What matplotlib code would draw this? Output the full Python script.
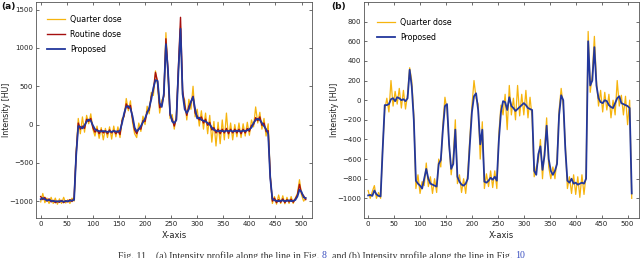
import numpy as np
import matplotlib
matplotlib.use("Agg")
import matplotlib.pyplot as plt

# ---------------- data: panel (a) ----------------
xa = np.arange(0, 512, 4)
a_quarter = [-1010, -900, -1020, -960, -1030, -950, -1030, -960, -1040, -970, -1030, -950, -1025, -980, -1030, -960,
             -1000, -350, 80, -120, 100, -100, 120, 10, 140, -60, -150, -20, -180, -40, -200, -50,
             -170, -30, -190, -20, -160, -30, -170, 80, 100, 340, 180, 310, 30, -120,
             -170, 20, -90, 110, 0, 240, 140, 420, 380, 700, 520, 150, 320, 360, 1200, 650,
             80, 130, -60, 120, 700, 1280, 380, 320, 60, 330, 200, 500, 100, 200, -20, 180,
             -60, 150, -120, 120, -230, 40, -280, 30, -250, 60, -200, 150, -180, 20, -200, 0,
             -160, 20, -170, 10, -150, 30, -140, 60, -30, 230, 20, 160, -60, 80, -150, 10,
             -650, -1030, -940, -1040, -920, -1030, -930, -1035, -950, -1030, -940, -1030, -960, -900, -720, -920,
             -1000, -960]
a_routine = [-940, -980, -950, -1000, -970, -1010, -990, -1020, -1000, -1015, -990, -1020, -995, -1010, -980, -1005,
             -960, -380, 20, -60, -20, -50, 70, 40, 80, -40, -100, -60, -120, -70, -110, -80,
             -120, -70, -110, -75, -120, -80, -130, 50, 120, 270, 210, 250, 80, -70,
             -120, -50, -60, 50, 40, 170, 190, 370, 450, 680, 560, 220, 250, 380, 1120, 720,
             120, 70, -20, 80, 760, 1400, 450, 250, 120, 240, 290, 370, 150, 110, 60, 100,
             20, 70, -10, 30, -70, -40, -110, -60, -120, -60, -110, -50, -120, -60, -110, -60,
             -110, -60, -120, -60, -110, -50, -90, -10, 0, 90, 50, 100, -10, 20, -90, -80,
             -680, -1000, -960, -1020, -980, -1015, -970, -1020, -980, -1010, -975, -1015, -970, -920, -780, -900,
             -930, -980]
a_proposed = [-975, -960, -975, -990, -985, -995, -1000, -1000, -1005, -1000, -1000, -1005, -1000, -1000, -995, -990,
              -985, -400, -20, -30, -50, -10, 40, 65, 50, -10, -60, -80, -85, -90, -85, -90,
              -95, -90, -95, -85, -90, -95, -80, 20, 150, 235, 240, 210, 110, -40,
              -90, -60, -20, 30, 80, 150, 220, 330, 480, 580, 570, 280, 230, 400, 1050, 700,
              150, 40, 20, 60, 700, 1250, 400, 200, 150, 200, 300, 360, 200, 80, 90, 60,
              50, 40, 20, 0, -40, -70, -80, -90, -80, -85, -90, -80, -85, -80, -90, -85,
              -80, -85, -90, -80, -85, -75, -60, -40, 20, 60, 75, 60, 20, -20, -60, -120,
              -700, -970, -990, -995, -1000, -995, -990, -1000, -995, -990, -1000, -995, -985, -940, -850, -880,
              -950, -960]

# ---------------- data: panel (b) ----------------
xb = np.arange(0, 512, 4)
b_quarter = [-920, -1000, -930, -870, -1000, -940, -1000, -480, -100, 20, -120, 200, -60, 90, -40, 120,
             -80, 100, -90, 60, 330, 200, -150, -900, -760, -950, -830, -870, -640, -880, -780, -950,
             -800, -940, -600, -680, -250, 30, -100, -450, -760, -580, -200, -850, -760, -940, -800, -950,
             -740, -380, -60, 200, 20, -40, -600, -220, -900, -750, -880, -720, -890, -720, -900, -330,
             -50, -150, 60, -300, 150, -150, 20, -200, 150, -160, 60, -150, 100, -180, 30, -180,
             -780, -680, -620, -400, -800, -500, -180, -680, -800, -680, -800, -600, -100, 120, -60, -450,
             -900, -780, -950, -760, -960, -780, -990, -760, -960, -760, 700, 80, 260, 650, 200, -60,
             100, -120, 80, -100, 60, -180, 0, -150, 200, -60, 50, -150, 40, -250, 0, -1000]
b_proposed = [-970, -965, -975, -920, -960, -975, -980, -500, -50, -50, -40, 10, 20, -10, 30, 20,
              0, 10, -10, 20, 310, 140, -200, -820, -850, -870, -900, -800, -700, -800, -850, -860,
              -870, -880, -650, -610, -300, -60, -40, -450, -700, -650, -300, -780, -830, -860, -870, -850,
              -800, -450, -120, 40, 70, -100, -450, -300, -830, -840, -820, -790, -810, -780, -820, -400,
              -120, -10, -20, -100, 30, -60, -80, -110, -90, -70, -50, -30, -50, -80, -90, -100,
              -720, -760, -550, -470, -710, -560, -260, -600, -720, -760, -720, -650, -150, 50, 0, -500,
              -820, -840, -800, -850, -840, -860, -850, -840, -850, -800, 600, 150, 200, 540, 150, 20,
              -20, -30, 0, -10, -50, -70, -80, -30, 20, 40, -30, -40, -50, -60, -80, -950]

xticks = list(range(0, 501, 50))
a_yticks = [-1000, -500, 0, 500, 1000, 1500]
b_yticks = list(range(-1000, 801, 200))

C_Q = "#F6B40E"
C_R = "#A50F0F"
C_P = "#22379C"
TXT = "#222222"

plt.rcParams['font.family'] = ['DejaVu Sans']

fig = plt.figure(figsize=(6.4, 2.58), dpi=100)
W, H = 640, 258
bot = 1 - 218 / H
hgt = (218 - 2) / H
axa = fig.add_axes([36 / W, bot, (312 - 36) / W, hgt])
axb = fig.add_axes([364 / W, bot, (639 - 364) / W, hgt])

axa.plot(xa, a_quarter, color=C_Q, lw=0.9, label="Quarter dose")
axa.plot(xa, a_routine, color=C_R, lw=1.0, label="Routine dose")
axa.plot(xa, a_proposed, color=C_P, lw=1.3, label="Proposed")
axa.set_xlim(-9, 520)
axa.set_ylim(-1220, 1600)
axa.set_yticks(a_yticks)

axb.plot(xb, b_quarter, color=C_Q, lw=0.9, label="Quarter dose")
axb.plot(xb, b_proposed, color=C_P, lw=1.3, label="Proposed")
axb.set_xlim(-8, 522)
axb.set_ylim(-1200, 1000)
axb.set_yticks(b_yticks)

for ax in (axa, axb):
    ax.set_xticks(xticks)
    ax.tick_params(direction='in', top=True, right=True, length=2.5, width=0.6,
                   labelsize=5, colors='#555555', labelcolor=TXT, pad=2)
    for s in ax.spines.values():
        s.set_linewidth(0.6)
        s.set_color('#555555')
    ax.set_xlabel("X-axis", fontsize=6, color=TXT, labelpad=3)
    ax.set_ylabel("Intensity [HU]", fontsize=5.7, color=TXT)

axa.yaxis.set_label_coords((11 - 36) / 276, 0.5)
axb.yaxis.set_label_coords((339 - 364) / 275, 0.5)

axa.legend(loc='upper left', bbox_to_anchor=(0.04, 0.94), frameon=False, fontsize=5.7,
           handlelength=2.3, handletextpad=0.6, labelspacing=0.75, borderpad=0, borderaxespad=0)
axb.legend(loc='upper left', bbox_to_anchor=(0.047, 0.925), frameon=False, fontsize=5.7,
           handlelength=2.3, handletextpad=0.6, labelspacing=0.7, borderpad=0, borderaxespad=0)

fig.text(1 / W, 1 - 7 / H, "(a)", fontsize=6.5, fontweight='bold', va='center', ha='left', color='#111111')
fig.text(331 / W, 1 - 7 / H, "(b)", fontsize=6.5, fontweight='bold', va='center', ha='left', color='#111111')

# caption (partly clipped at the bottom as in the reference)
pieces = [("Fig. 11    (a) Intensity profile along the line in Fig.\u00a0", '#333333'),
          ("8", '#3a4fc0'),
          (", and (b) Intensity profile along the line in Fig.\u00a0", '#333333'),
          ("10", '#3a4fc0')]
fig.canvas.draw()
r = fig.canvas.get_renderer()
xpos = 118
for txt, col in pieces:
    t = fig.text(xpos / W, 1 - 251 / H, txt, fontsize=7.1, family='Liberation Serif', color=col,
                 va='top', ha='left')
    bb = t.get_window_extent(renderer=r)
    xpos += bb.width

fig.savefig("out.png", dpi=100)
